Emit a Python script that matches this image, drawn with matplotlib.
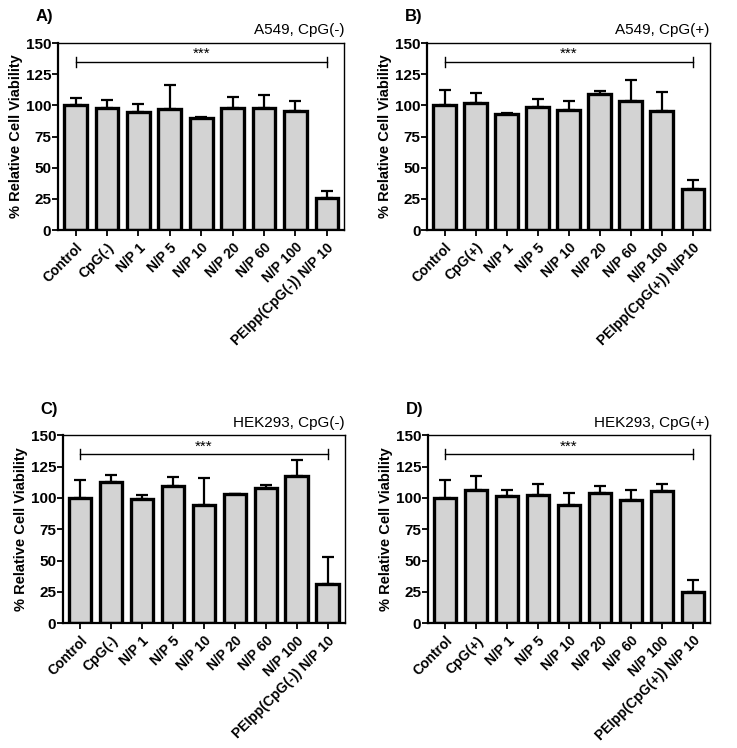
import matplotlib
matplotlib.use("Agg")
import matplotlib.pyplot as plt
import numpy as np

plt.rcParams['font.family'] = ['Liberation Sans', 'DejaVu Sans']

labels_A = ["Control", "CpG(-)", "N/P 1", "N/P 5", "N/P 10", "N/P 20", "N/P 60", "N/P 100", "PEIpp(CpG(-)) N/P 10"]
labels_B = ["Control", "CpG(+)", "N/P 1", "N/P 5", "N/P 10", "N/P 20", "N/P 60", "N/P 100", "PEIpp(CpG(+)) N/P10"]
labels_C = ["Control", "CpG(-)", "N/P 1", "N/P 5", "N/P 10", "N/P 20", "N/P 60", "N/P 100", "PEIpp(CpG(-)) N/P 10"]
labels_D = ["Control", "CpG(+)", "N/P 1", "N/P 5", "N/P 10", "N/P 20", "N/P 60", "N/P 100", "PEIpp(CpG(+)) N/P 10"]

vals_A = [100, 98, 95, 97, 90, 98, 97.5, 95.5, 26]
err_A = [5.5, 6, 6, 19, 1, 8.5, 11, 8, 5]
vals_B = [100, 101.5, 93.3, 98.7, 96.3, 109.4, 103.3, 95.5, 33]
err_B = [12.5, 8.5, 0.5, 6, 7, 1.8, 16.7, 15, 7]
vals_C = [100, 112.8, 99, 109.5, 94.3, 103, 108, 117.3, 31]
err_C = [14.3, 5.5, 3.5, 7, 21.5, 0, 2, 12.7, 22]
vals_D = [100, 106.6, 101.5, 102.5, 94, 103.8, 98.7, 105.8, 24.8]
err_D = [14.3, 10.6, 5, 8.3, 9.6, 5.8, 7.3, 5, 9.8]

titles = ["A549, CpG(-)", "A549, CpG(+)", "HEK293, CpG(-)", "HEK293, CpG(+)"]
panel_tags = ["A)", "B)", "C)", "D)"]
sig_text = "***"
sig_level = 135
yticks = [0, 25, 50, 75, 100, 125, 150]

fig = plt.figure(figsize=(7.37, 7.48), dpi=100)

positions = [
    [0.079, 0.6925, 0.388, 0.25],
    [0.580, 0.6925, 0.383, 0.25],
    [0.0855, 0.167, 0.382, 0.251],
    [0.581, 0.167, 0.382, 0.251],
]
data = [(labels_A, vals_A, err_A), (labels_B, vals_B, err_B),
        (labels_C, vals_C, err_C), (labels_D, vals_D, err_D)]

for i, (pos, (labs, vals, errs)) in enumerate(zip(positions, data)):
    ax = fig.add_axes(pos)
    x = np.arange(len(labs))
    ax.bar(x, vals, width=0.72, color="#d3d3d3", edgecolor="black", linewidth=2.4, zorder=2)
    ax.errorbar(x, vals, yerr=[np.zeros(len(errs)), errs], fmt="none", ecolor="black",
                elinewidth=1.6, capsize=4.5, capthick=1.6, zorder=1)
    ax.set_xlim(-0.55, len(labs) - 0.45)
    ax.set_ylim(0, 150)
    ax.set_yticks(yticks)
    ax.set_yticklabels([str(t) for t in yticks], fontsize=11, fontweight="bold")
    ax.set_xticks(x)
    ax.set_xticklabels(labs, rotation=45, ha="right", rotation_mode="anchor",
                       fontsize=10, fontweight="bold")
    ax.tick_params(axis="both", direction="out", length=4, width=1.3)
    ax.tick_params(axis="y", pad=1)
    for s in ["left", "bottom"]:
        ax.spines[s].set_linewidth(1.6)
    for s in ["top", "right"]:
        ax.spines[s].set_linewidth(1.0)
    ax.set_ylabel("% Relative Cell Viability", fontsize=10.5, fontweight="bold", labelpad=2)
    # significance bracket
    ax.plot([x[0], x[-1]], [sig_level, sig_level], color="black", lw=1.0, zorder=3)
    ax.plot([x[0], x[0]], [sig_level - 4, sig_level + 4], color="black", lw=1.0)
    ax.plot([x[-1], x[-1]], [sig_level - 4, sig_level + 4], color="black", lw=1.0)
    ax.text((x[0] + x[-1]) / 2, sig_level + 0.5, sig_text, ha="center", va="bottom", fontsize=11)
    ax.text(1.0, 1.03, titles[i], transform=ax.transAxes, ha="right", va="bottom", fontsize=11)
    ax.text(-0.08, 1.1, panel_tags[i], transform=ax.transAxes, ha="left", va="bottom",
            fontsize=12, fontweight="bold")

fig.savefig("out.png", dpi=100)
